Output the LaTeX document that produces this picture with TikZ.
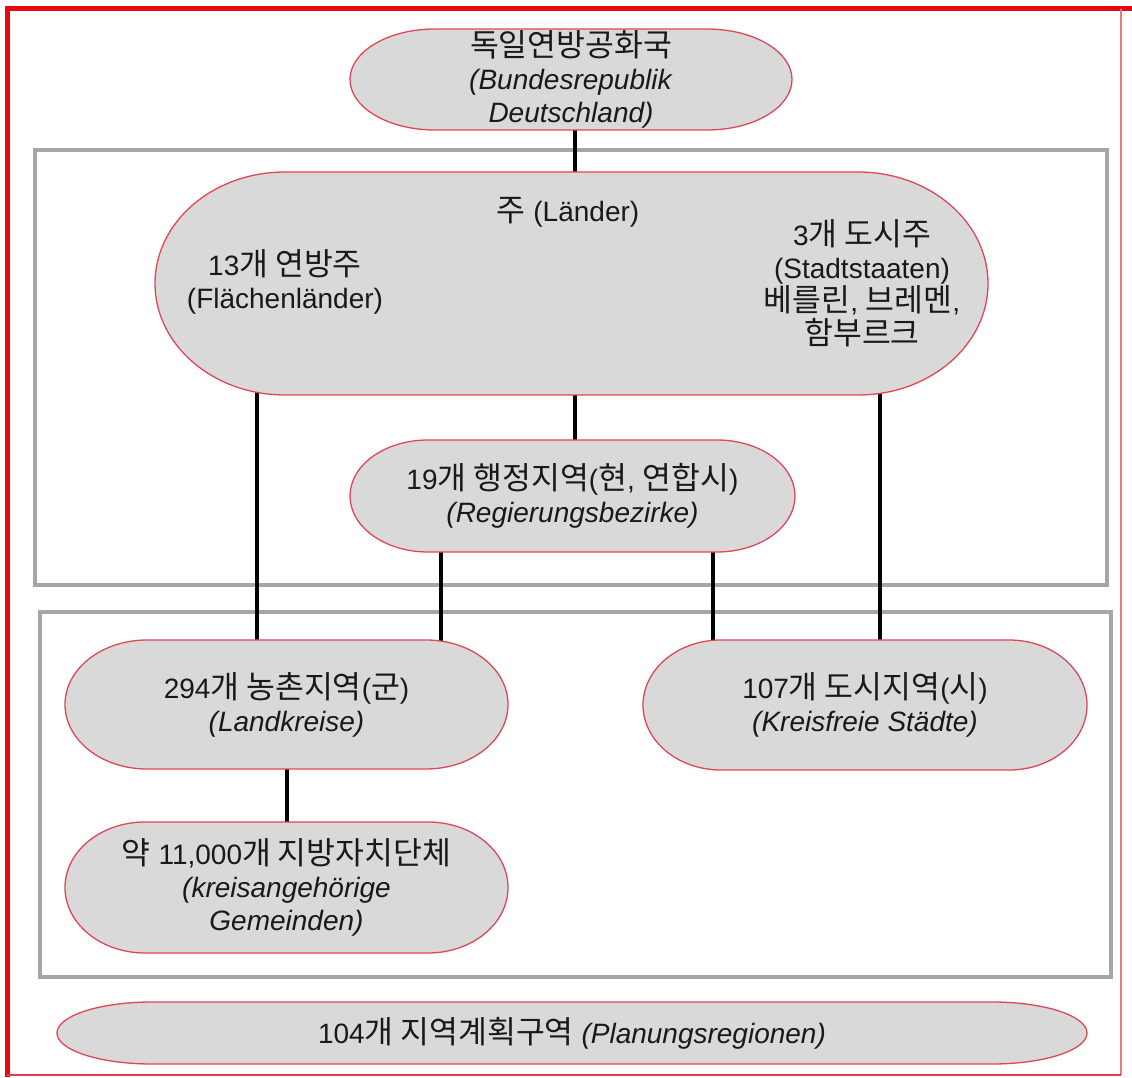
\documentclass[tikz,border=0pt]{standalone}
\usepackage{fontspec}
\setmainfont{Liberation Sans}
\newfontfamily\kr{Noto Sans CJK KR}[Scale=1.12]
\newcommand\hk[1]{{\kr #1}}
\pgfdeclarelayer{frames}
\pgfdeclarelayer{conn}
\pgfsetlayers{frames,conn,main}
\definecolor{boxfill}{RGB}{217,217,217}
\definecolor{boxline}{RGB}{222,72,86}
\definecolor{framered}{RGB}{228,10,20}
\definecolor{grayframe}{RGB}{166,166,166}
\definecolor{txt}{RGB}{25,25,25}
\tikzset{
  stadium/.style={fill=boxfill, draw=boxline, line width=1.3pt},
  lbl/.style={inner sep=0pt, align=center, text=txt, font=\fontsize{28}{33}\selectfont},
  connector/.style={draw=black, line width=4.5pt, shorten <=-12pt, shorten >=-12pt},
  grayrect/.style={draw=grayframe, line width=4pt},
}
% name, x1, ytop, x2, ybottom, rx, text  (page pixel coordinates)
\newcommand\stad[7]{%
  \pgfmathsetmacro\stRy{(#5-#3)/2}%
  \pgfmathsetmacro\stYt{1077-#3}%
  \pgfmathsetmacro\stYb{1077-#5}%
  \pgfmathsetmacro\stYm{1077-(#3+#5)/2}%
  \path[stadium] ({#2+#6},\stYt) -- ({#4-#6},\stYt)
     arc[start angle=90, end angle=-90, x radius=#6pt, y radius=\stRy pt]
     -- ({#2+#6},\stYb)
     arc[start angle=270, end angle=90, x radius=#6pt, y radius=\stRy pt] -- cycle;
  \node[lbl, minimum width={(#4-#2)*1pt}, minimum height={(#5-#3)*1pt}] (#1) at ({(#2+#4)/2},\stYm) {#7};
}
\begin{document}
\begin{tikzpicture}[x=1pt, y=1pt]
\useasboundingbox (0,0) rectangle (1132,1077);

\begin{pgfonlayer}{frames}
  \fill[white] (0,0) rectangle (1132,1077);
  % outer red frame
  \draw[framered, line width=5pt] (7.5,0) -- (7.5,1068) -- (1132,1068);
  \draw[framered!55, line width=1.5pt] (1121,1068) -- (1121,2);
  \draw[framered!80, line width=2pt] (7,2.5) -- (1121,2.5);
  % gray group boxes
  \draw[grayrect] (35,927) rectangle (1107,492);
  \draw[grayrect] (40,465) rectangle (1111,100);
\end{pgfonlayer}

\stad{bund}{350}{29}{792}{130}{85}{\hk{독일연방공화국}\\\textit{(Bundesrepublik}\\\textit{Deutschland)}}
\stad{laender}{155}{172}{988}{395}{130}{}
\node[lbl] (laenderT) at (568,865) {\hk{주} (Länder)};
\node[lbl] (flaechen) at (285,795) {13\hk{개 연방주}\\(Flächenländer)};
\node[lbl] (stadt) at (862,794) {3\hk{개 도시주}\\(Stadtstaaten)\\\hk{베를린}, \hk{브레멘},\\\hk{함부르크}};
\stad{rb}{350}{440}{795}{552}{78}{19\hk{개 행정지역}(\hk{현}, \hk{연합시})\\\textit{(Regierungsbezirke)}}
\stad{lk}{65}{640}{508}{769}{82}{294\hk{개 농촌지역}(\hk{군})\\\textit{(Landkreise)}}
\stad{ks}{643}{640}{1087}{770}{78}{107\hk{개 도시지역}(\hk{시})\\\textit{(Kreisfreie Städte)}}
\stad{gem}{65}{822}{508}{953}{80}{\hk{약} 11,000\hk{개 지방자치단체}\\\textit{(kreisangehörige}\\\textit{Gemeinden)}}
\stad{plan}{57}{1002}{1087}{1064}{95}{104\hk{개 지역계획구역} \textit{(Planungsregionen)}}

\coordinate (c575) at (575,0);
\coordinate (c257) at (257,0);
\coordinate (c441) at (441,0);
\coordinate (c713) at (713,0);
\coordinate (c880) at (880,0);
\coordinate (c287) at (287,0);

\begin{pgfonlayer}{conn}
  \draw[connector] (bund.south -| c575) -- (laender.north -| c575);
  \draw[connector] (laender.south -| c575) -- (rb.north -| c575);
  \draw[connector] (laender.south -| c257) -- (lk.north -| c257);
  \draw[connector] (laender.south -| c880) -- (ks.north -| c880);
  \draw[connector] (rb.south -| c441) -- (lk.north -| c441);
  \draw[connector] (rb.south -| c713) -- (ks.north -| c713);
  \draw[connector] (lk.south -| c287) -- (gem.north -| c287);
\end{pgfonlayer}
\end{tikzpicture}
\end{document}
